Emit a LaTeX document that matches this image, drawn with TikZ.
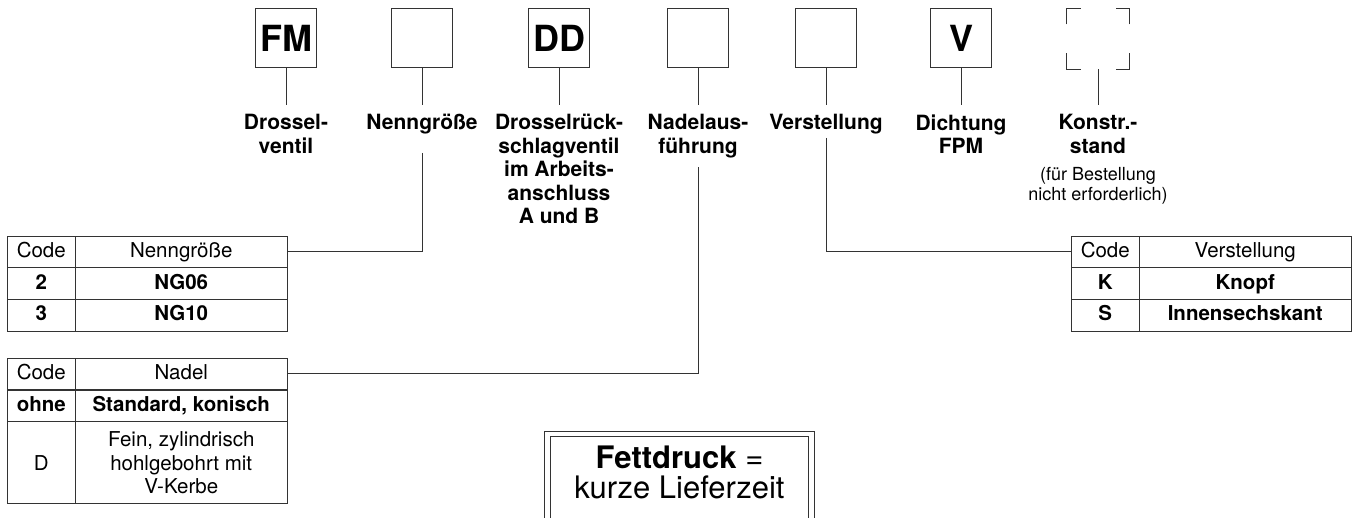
\documentclass[tikz,border=0pt]{standalone}
\usepackage{fontspec}
\setmainfont{TeX Gyre Heros}
\begin{document}
\begin{tikzpicture}[x=1pt,y=-1pt,line width=1pt,color=black!80,every node/.style={text=black},
codebox/.style={draw,minimum width=61pt,minimum height=59pt,inner sep=0pt,font=\fontsize{36}{36}\selectfont\bfseries},
kbox/.style={minimum width=62pt,minimum height=60pt,inner sep=0pt},
lbl/.style={anchor=north,align=center,inner xsep=0pt,inner ysep=9pt,font=\fontsize{21}{23.5}\selectfont\bfseries},
small/.style={anchor=north,align=center,inner sep=0pt,font=\fontsize{18}{20}\selectfont},
cell/.style={draw,inner sep=0pt,minimum height=31.7pt,text height=15pt,text depth=4.3pt,font=\fontsize{20.5}{23}\selectfont},
bcell/.style={cell,font=\fontsize{20.5}{23}\selectfont\bfseries},
tcell/.style={draw,inner sep=0pt,minimum height=82pt,align=center,font=\fontsize{20.5}{23.5}\selectfont},
cw/.style={minimum width=68.5pt},
tw/.style={minimum width=211.5pt}]
\useasboundingbox (0,0) rectangle (1353,518);

\node[codebox](A1) at (286,38.5){FM};
\node[codebox](A2) at (422,38.5){};
\node[codebox](A3) at (559,38.5){DD};
\node[codebox](A4) at (698,38.5){};
\node[codebox](A5) at (826,38.5){};
\node[codebox](A6) at (961,38.5){V};
\node[kbox](A7) at (1098,39){};
\draw ([yshift=-16pt]A7.north west)--(A7.north west)--([xshift=14pt]A7.north west);
\draw ([yshift=-16pt]A7.north east)--(A7.north east)--([xshift=-14pt]A7.north east);
\draw ([yshift=16pt]A7.south west)--(A7.south west)--([xshift=14pt]A7.south west);
\draw ([yshift=16pt]A7.south east)--(A7.south east)--([xshift=-14pt]A7.south east);

\node[lbl](B1) at (286,105){Drossel-\\ventil};
\node[lbl](B2) at (422,105){Nenngröße};
\node[lbl](B3) at (559,105){Drosselrück-\\schlagventil\\im Arbeits-\\anschluss\\A und B};
\node[lbl](B4) at (698,105){Nadelaus-\\führung};
\node[lbl](B5) at (826,105){Verstellung};
\node[lbl](B6) at (961,105){Dichtung\\FPM};
\node[lbl](B7) at (1098,105){Konstr.-\\stand};
\node[small](B8) at (1098,166.4){(für Bestellung\\nicht erforderlich)};
\draw (A1)--(B1);
\draw (A2)--(B2);
\draw (A3)--(B3);
\draw (A4)--(B4);
\draw (A5)--(B5);
\draw (A6)--(B6);
\draw (A7)--(B7);

\node[cell,cw](C1) at (41.25,252){Code};
\node[cell,tw](C2) at (181.25,252){Nenngröße};
\node[bcell,cw](C3) at (41.25,283.7){2};
\node[bcell,tw](C4) at (181.25,283.7){NG06};
\node[bcell,cw](C5) at (41.25,315.3){3};
\node[bcell,tw](C6) at (181.25,315.3){NG10};
\draw ([yshift=-9pt]B2.south) |- (C2.east);

\node[cell,cw](D1) at (41.25,374){Code};
\node[cell,tw](D2) at (181.25,374){Nadel};
\node[bcell,cw](D3) at (41.25,406){ohne};
\node[bcell,tw](D4) at (181.25,406){Standard, konisch};
\node[tcell,cw](D5) at (41.25,463){D};
\node[tcell,tw](D6) at (181.25,463){Fein, zylindrisch\\hohlgebohrt mit\\V-Kerbe};
\draw (B4.south) |- (D2.east);

\node[cell,cw](E1) at (1105.25,252){Code};
\node[cell,tw](E2) at (1245.25,252){Verstellung};
\node[bcell,cw](E3) at (1105.25,283.7){K};
\node[bcell,tw](E4) at (1245.25,283.7){Knopf};
\node[bcell,cw](E5) at (1105.25,315.3){S};
\node[bcell,tw](E6) at (1245.25,315.3){Innensechskant};
\draw ([yshift=6pt]B5.south) |- (E1.west);

\node[align=center,font=\fontsize{31}{30}\selectfont](F1) at (679.5,472){\textbf{Fettdruck} =\\kurze Lieferzeit};
\draw[double,double distance=4.5pt] ([xshift=-132pt]F1.center |- 0,540) |- (F1.center |- 0,434) -| ([xshift=132pt]F1.center |- 0,540);
\end{tikzpicture}
\end{document}
